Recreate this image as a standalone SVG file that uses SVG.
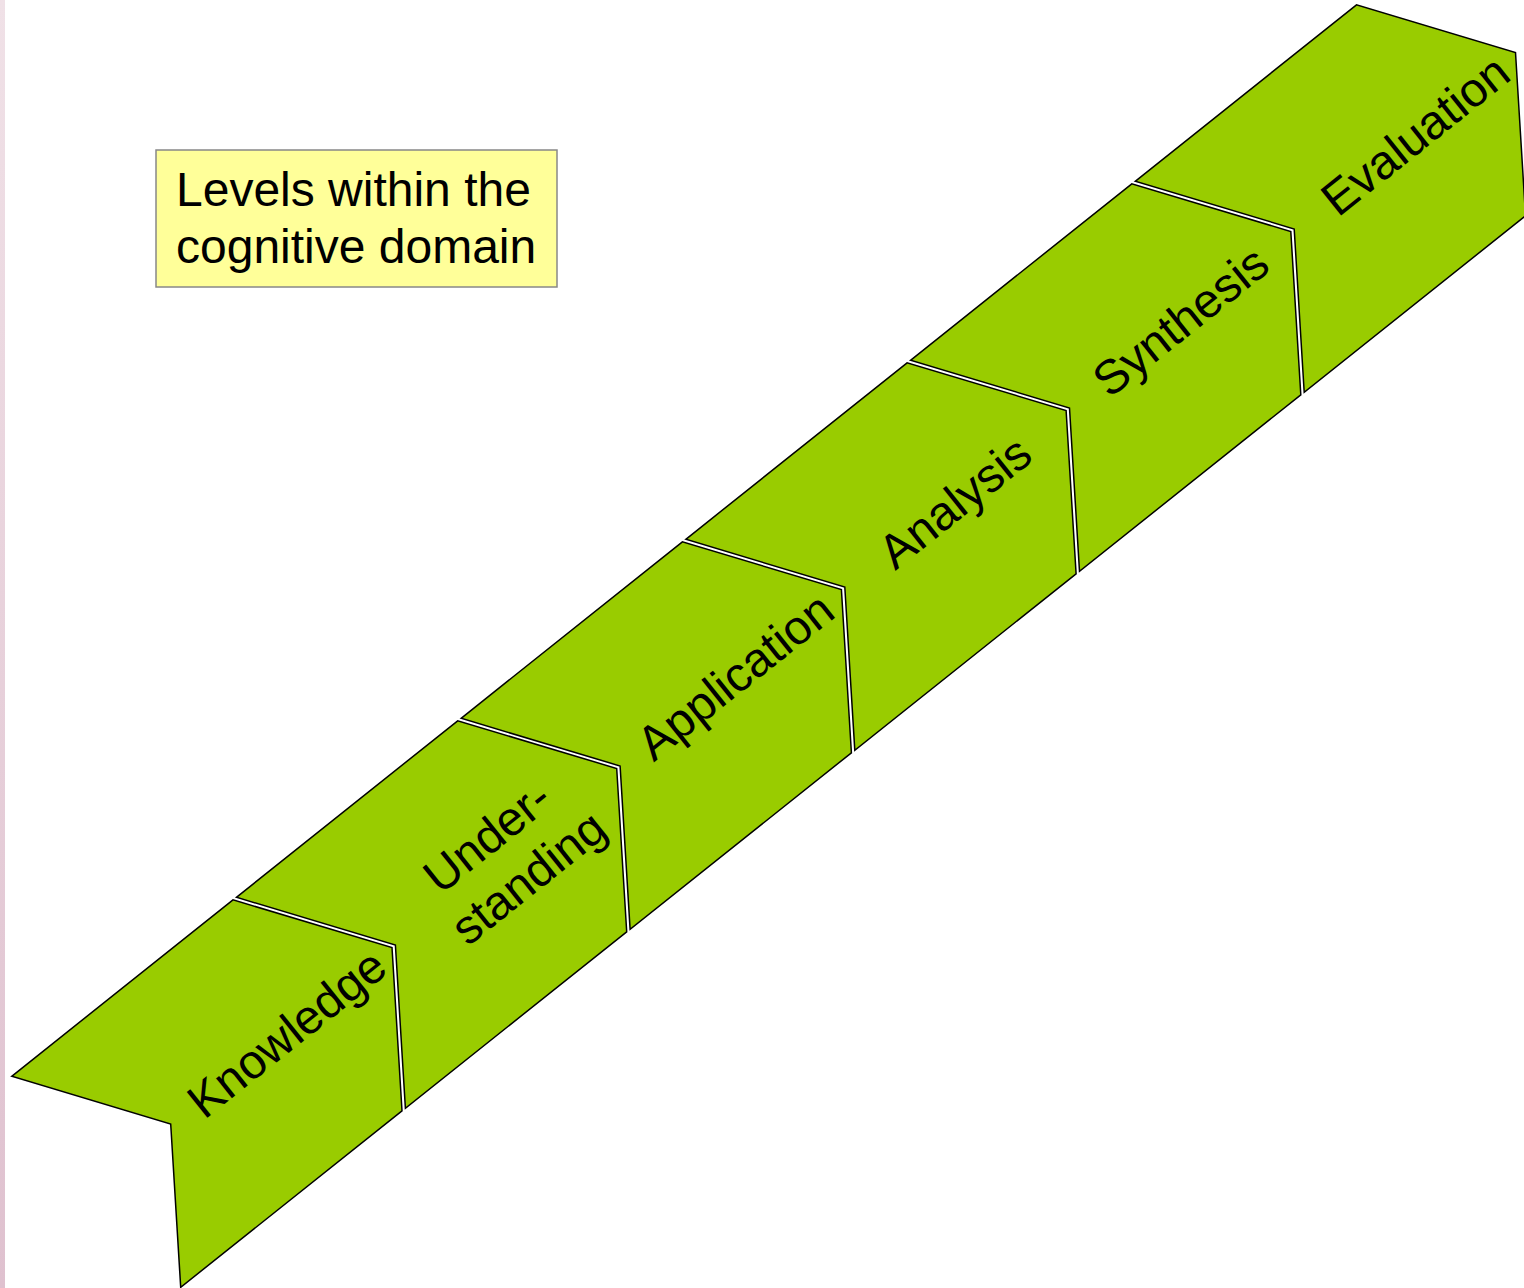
<svg xmlns="http://www.w3.org/2000/svg" xmlns:xlink="http://www.w3.org/1999/xlink" width="1524" height="1288" viewBox="0 0 1524 1288">
  <style>
    .step { fill: #99cc00; stroke: #000; stroke-width: 1.5; stroke-linejoin: miter; }
    .lbl { font-family: "Liberation Sans", Arial, sans-serif; font-size: 48px; fill: #000; text-anchor: middle; }
    .title { font-family: "Liberation Sans", Arial, sans-serif; font-size: 48px; fill: #000; }
  </style>
  <defs>
    <linearGradient id="edge" x1="0" y1="0" x2="0" y2="1">
      <stop offset="0" stop-color="#f0e1e7"/>
      <stop offset="1" stop-color="#dfc1cf"/>
    </linearGradient>
    <!-- one chevron step; copies are shifted up the staircase -->
    <polygon id="chev" class="step" points="11.7,1076.3 233,899.8 392,947.5 402,1110.8 180.7,1287.3 170.7,1124"/>
  </defs>

  <rect x="0" y="0" width="1524" height="1288" fill="#ffffff"/>
  <rect x="0" y="0" width="5" height="1288" fill="url(#edge)"/>

  <g id="title-box">
    <rect x="156" y="150" width="401" height="137" fill="#ffff99" stroke="#888888" stroke-width="1.5"/>
    <text class="title" x="176" y="206">Levels within the</text>
    <text class="title" x="176" y="263">cognitive domain</text>
  </g>

  <g id="connectors"></g>

  <g id="knowledge">
    <use xlink:href="#chev" href="#chev"/>
    <text class="lbl" transform="translate(289,1036) rotate(-38.6)" y="13">Knowledge</text>
  </g>
  <g id="understanding">
    <use xlink:href="#chev" href="#chev" transform="translate(224.7,-179)"/>
    <text class="lbl" transform="translate(512.7,858) rotate(-38.6)">
      <tspan x="0" y="-16">Under-</tspan>
      <tspan x="0" y="41.5">standing</tspan>
    </text>
  </g>
  <g id="application">
    <use xlink:href="#chev" href="#chev" transform="translate(449.4,-358)"/>
    <text class="lbl" transform="translate(737.4,679) rotate(-38.6)" y="13">Application</text>
  </g>
  <g id="analysis">
    <use xlink:href="#chev" href="#chev" transform="translate(674.1,-537)"/>
    <text class="lbl" transform="translate(957.1,505) rotate(-38.6)" y="13">Analysis</text>
  </g>
  <g id="synthesis">
    <use xlink:href="#chev" href="#chev" transform="translate(898.8,-716)"/>
    <text class="lbl" transform="translate(1182.8,324) rotate(-38.6)" y="13">Synthesis</text>
  </g>
  <g id="evaluation">
    <use xlink:href="#chev" href="#chev" transform="translate(1123.5,-895)"/>
    <text class="lbl" transform="translate(1417.5,138) rotate(-38.6)" y="13">Evaluation</text>
  </g>
</svg>
